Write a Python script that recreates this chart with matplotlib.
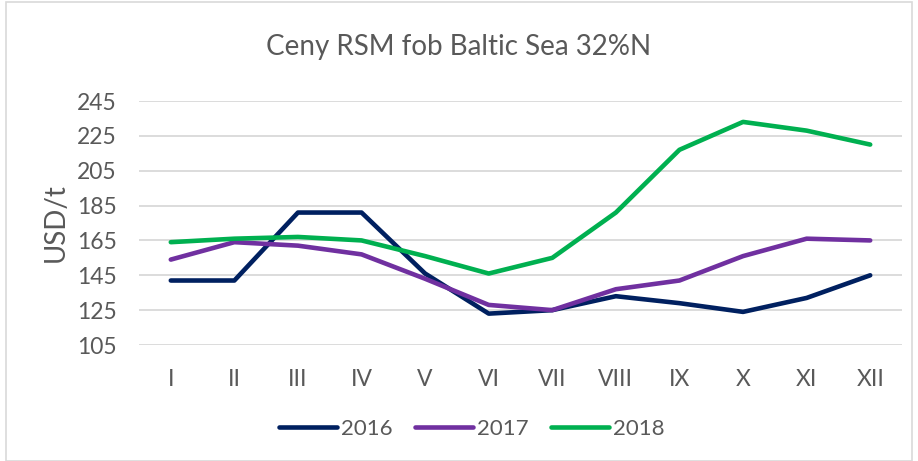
import matplotlib
matplotlib.use("Agg")
import matplotlib.pyplot as plt
from matplotlib.patches import Rectangle

months = ["I", "II", "III", "IV", "V", "VI", "VII", "VIII", "IX", "X", "XI", "XII"]
y2016 = [142, 142, 181, 181, 146, 123, 125, 133, 129, 124, 132, 145]
y2017 = [154, 164, 162, 157, 143, 128, 125, 137, 142, 156, 166, 165]
y2018 = [164, 166, 167, 165, 156, 146, 155, 181, 217, 233, 228, 220]
yticks = [105, 125, 145, 165, 185, 205, 225, 245]

txt = "#595959"
plt.rcParams['font.family'] = ['Lato', 'DejaVu Sans']

fig = plt.figure(figsize=(9.18, 4.61), dpi=100)
ax = fig.add_axes([139/918, 1-345/461, (902-139)/918, (345-101)/461])

x = list(range(len(months)))
ax.plot(x, y2016, color="#002060", lw=3.3, solid_capstyle="round", label="2016")
ax.plot(x, y2017, color="#7030A0", lw=3.3, solid_capstyle="round", label="2017")
ax.plot(x, y2018, color="#00B050", lw=3.3, solid_capstyle="round", label="2018")

ax.set_xlim(-0.5, 11.5)
ax.set_ylim(105, 245)
ax.set_yticks(yticks)
ax.set_xticks(x)
ax.set_xticklabels(months)
ax.grid(axis="y", color="#d9d9d9", lw=1.3)
ax.set_axisbelow(True)
for s in ax.spines.values():
    s.set_visible(False)
ax.tick_params(length=0, labelsize=16.5, colors=txt)
ax.tick_params(axis="y", pad=16)
ax.tick_params(axis="x", pad=17)
ax.set_ylabel("USD/t", fontsize=20, color=txt, labelpad=6)

fig.text(0.5, 1-47/461, "Ceny RSM fob Baltic Sea 32%N", ha="center", va="center",
         fontsize=20, color=txt)

leg = fig.legend(loc="center", bbox_to_anchor=(472/918, 1-429/461), ncol=3, frameon=False,
                 fontsize=16, handlelength=2.6, handletextpad=0.2, columnspacing=1.0)
for t in leg.get_texts():
    t.set_color(txt)

fig.patches.append(Rectangle((6/918, 0), 1-12/918, 1-2/461, transform=fig.transFigure,
                             fill=False, edgecolor="#d9d9d9", lw=1.2))

fig.savefig("out.png", dpi=100)
